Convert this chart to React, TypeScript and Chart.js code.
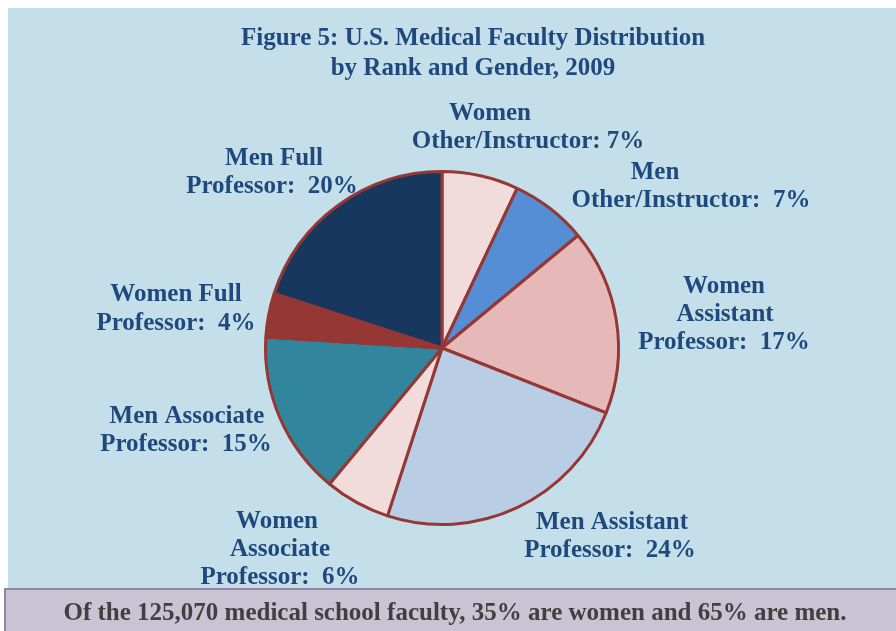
import React, { useEffect, useRef } from "react";
import { Chart, registerables } from "chart.js";

Chart.register(...registerables);

const titleLines = ["Figure 5: U.S. Medical Faculty Distribution", "by Rank and Gender, 2009"];
const footnote = "Of the 125,070 medical school faculty, 35% are women and 65% are men.";

const categories = [
  "Women Other/Instructor",
  "Men Other/Instructor",
  "Women Assistant Professor",
  "Men Assistant Professor",
  "Women Associate Professor",
  "Men Associate Professor",
  "Women Full Professor",
  "Men Full Professor",
];
const shares = [7, 7, 17, 24, 6, 15, 4, 20];
const labelLines = [
  ["Women", "Other/Instructor: 7%"],
  ["Men", "Other/Instructor:  7%"],
  ["Women", "Assistant", "Professor:  17%"],
  ["Men Assistant", "Professor:  24%"],
  ["Women", "Associate", "Professor:  6%"],
  ["Men Associate", "Professor:  15%"],
  ["Women Full", "Professor:  4%"],
  ["Men Full", "Professor:  20%"],
];
const sliceColors = ["#f2dcdb", "#558ed5", "#e6b9b8", "#b9cde5", "#f2dcdb", "#31859c", "#953735", "#17375e"];

// label line centres, relative to the pie centre (layout only)
const labelLayout = [
  [[48, -236], [86, -208]],
  [[213, -177], [249, -149]],
  [[282, -63], [283, -35], [282, -7]],
  [[170, 173], [168, 201]],
  [[-165, 172], [-162, 200], [-162, 228]],
  [[-255, 67], [-256, 95]],
  [[-266, -55], [-266, -26]],
  [[-168, -191], [-170, -163]],
];

const FONT = '"Liberation Serif", "Times New Roman", serif';
const TEXT_BLUE = "#1f497d";
const DY = 2;

const decorPlugin = {
  id: "decor",
  beforeDraw(chart: any) {
    const ctx = chart.ctx;
    ctx.save();
    ctx.fillStyle = "#ffffff";
    ctx.fillRect(0, 0, chart.width, chart.height);
    ctx.fillStyle = "#c4dfe9";
    ctx.fillRect(8, 8, chart.width - 8, 580);
    // footer box
    ctx.fillStyle = "#cac3d4";
    ctx.fillRect(5, 588, chart.width - 5, chart.height - 588);
    ctx.strokeStyle = "#8f87a3";
    ctx.lineWidth = 2;
    ctx.beginPath();
    ctx.moveTo(5, chart.height);
    ctx.lineTo(5, 589);
    ctx.lineTo(chart.width, 589);
    ctx.stroke();
    ctx.restore();
  },
  afterDraw(chart: any) {
    const ctx = chart.ctx;
    const arc = chart.getDatasetMeta(0).data[0];
    const cx = arc.x;
    const cy = arc.y;
    ctx.save();
    ctx.textAlign = "center";
    ctx.textBaseline = "middle";
    ctx.fillStyle = TEXT_BLUE;
    ctx.font = `bold 25px ${FONT}`;
    ctx.fillText(titleLines[0], 473, 37 + DY);
    ctx.fillText(titleLines[1], 473, 67 + DY);
    labelLines.forEach((lines, i) => {
      lines.forEach((line, j) => {
        const [dx, dy] = labelLayout[i][j];
        ctx.fillText(line, cx + dx, cy + dy + DY);
      });
    });
    ctx.fillStyle = "#404040";
    ctx.fillText(footnote, 455, 612 + DY);
    ctx.restore();
  },
};

export default function App() {
  const ref = useRef<HTMLCanvasElement>(null);
  useEffect(() => {
    document.body.style.margin = "0";
    const chart = new Chart(ref.current as HTMLCanvasElement, {
      type: "pie",
      data: {
        labels: categories,
        datasets: [
          {
            data: shares,
            backgroundColor: sliceColors,
            borderColor: "#953735",
            borderWidth: 3,
          },
        ],
      },
      options: {
        animation: false,
        responsive: false,
        layout: { padding: { top: 170, bottom: 105, left: 264, right: 276 } },
        plugins: { legend: { display: false }, tooltip: { enabled: false }, title: { display: false } },
      },
      plugins: [decorPlugin],
    });
    return () => chart.destroy();
  }, []);
  return (
    <div style={{ width: 896, height: 631 }}>
      <canvas ref={ref} width={896} height={631} style={{ display: "block" }} />
    </div>
  );
}
